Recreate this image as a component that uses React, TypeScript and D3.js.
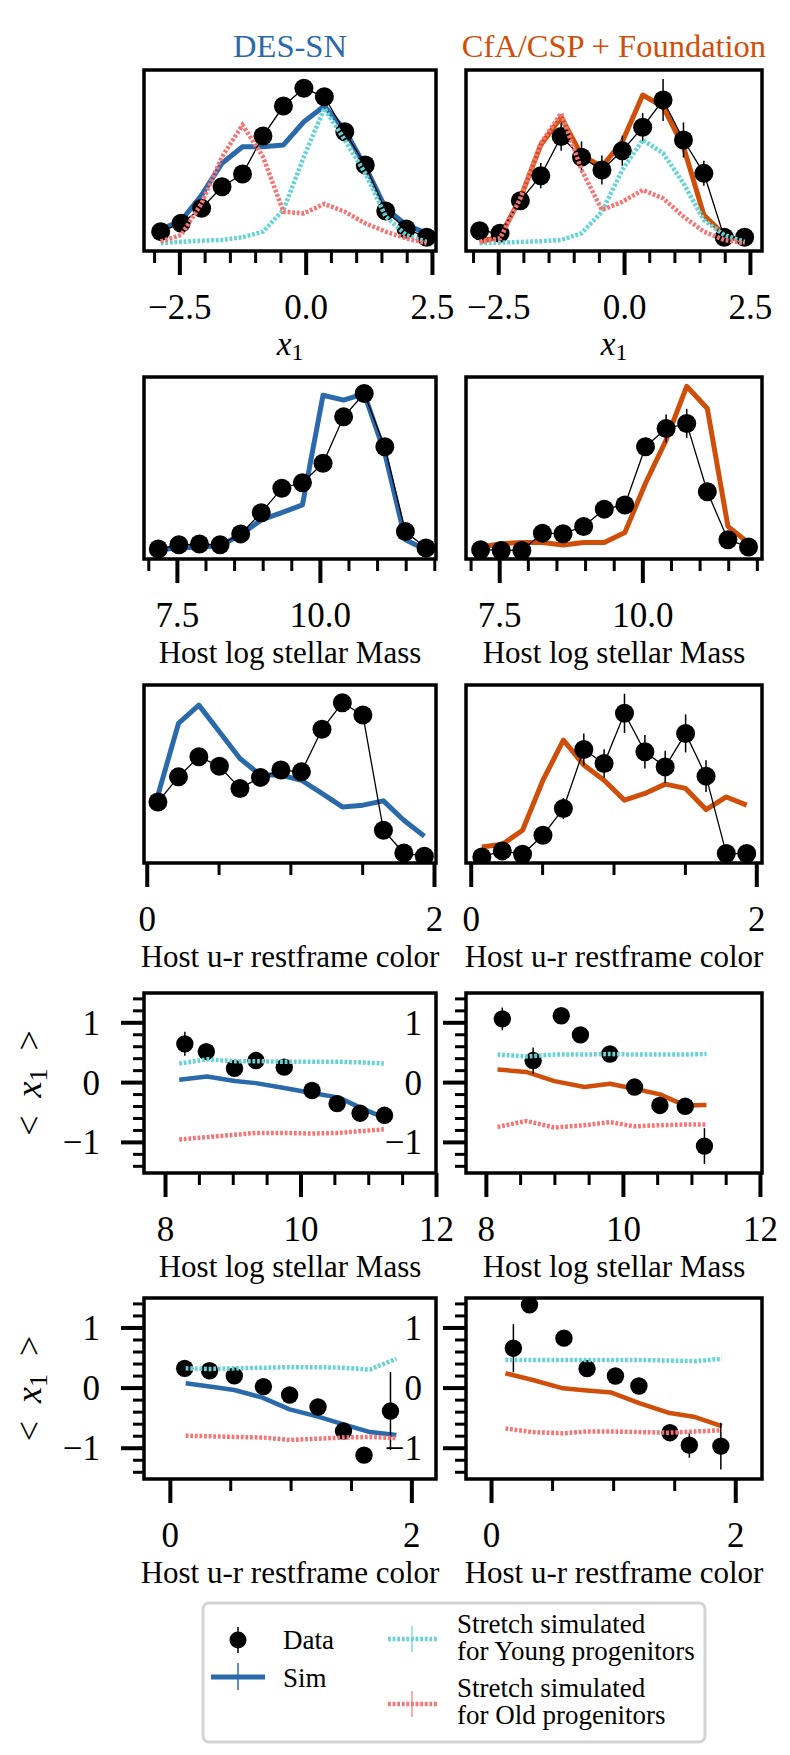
import * as d3 from "d3";
import { useEffect, useRef } from "react";

const W = 790;
const H = 1755;
const BLUE = "#2a6aab";
const ORANGE = "#cf4f0a";
const CYAN = "#66d4d6";
const RED = "#f87474";
const FONT = "\"Liberation Serif\", \"DejaVu Serif\", Times, serif";

// x1 histograms (normalised counts)
const x1Bins = [-2.87, -2.465, -2.06, -1.655, -1.25, -0.845, -0.44, -0.035, 0.37, 0.775, 1.18, 1.585, 1.99, 2.395];
const desX1Data = [0.107, 0.153, 0.236, 0.355, 0.425, 0.635, 0.801, 0.899, 0.852, 0.659, 0.475, 0.221, 0.122, 0.076];
const desX1Err = [0.01, 0.015, 0.02, 0.02, 0.025, 0.03, 0.03, 0.03, 0.03, 0.03, 0.025, 0.02, 0.015, 0.01];
const desX1Sim = [0.12, 0.167, 0.309, 0.485, 0.576, 0.576, 0.586, 0.714, 0.801, 0.669, 0.466, 0.236, 0.144, 0.098];
const desX1Young = [0.043, 0.051, 0.057, 0.061, 0.076, 0.107, 0.227, 0.521, 0.788, 0.613, 0.429, 0.19, 0.088, 0.051];
const desX1Old = [0.053, 0.088, 0.263, 0.521, 0.696, 0.521, 0.217, 0.208, 0.26, 0.217, 0.153, 0.107, 0.07, 0.043];
const lowzX1Data = [0.112, 0.098, 0.278, 0.416, 0.632, 0.518, 0.448, 0.554, 0.684, 0.834, 0.613, 0.429, 0.076, 0.076];
const lowzX1Err = [0.02, 0.02, 0.045, 0.07, 0.078, 0.088, 0.08, 0.083, 0.078, 0.116, 0.097, 0.069, 0.02, 0.02];
const lowzX1Sim = [0.051, 0.079, 0.291, 0.586, 0.739, 0.53, 0.466, 0.604, 0.862, 0.797, 0.576, 0.199, 0.088, 0.051];
const lowzX1Young = [0.043, 0.046, 0.05, 0.054, 0.061, 0.098, 0.217, 0.448, 0.613, 0.54, 0.374, 0.171, 0.088, 0.051];
const lowzX1Old = [0.051, 0.07, 0.291, 0.595, 0.761, 0.448, 0.227, 0.272, 0.337, 0.291, 0.19, 0.107, 0.061, 0.043];

// host mass histograms
const massBins = [7.175, 7.535, 7.895, 8.255, 8.615, 8.975, 9.335, 9.695, 10.055, 10.415, 10.775, 11.135, 11.495, 11.855];
const desMassData = [0.055, 0.078, 0.082, 0.078, 0.138, 0.254, 0.389, 0.419, 0.526, 0.781, 0.909, 0.617, 0.151, 0.06];
const desMassErr = [0.01, 0.012, 0.012, 0.012, 0.015, 0.02, 0.025, 0.025, 0.025, 0.03, 0.03, 0.025, 0.015, 0.01];
const desMassSim = [0.051, 0.06, 0.066, 0.073, 0.133, 0.215, 0.255, 0.297, 0.9, 0.873, 0.909, 0.581, 0.106, 0.051];
const lowzMassData = [0.051, 0.047, 0.047, 0.142, 0.139, 0.179, 0.274, 0.297, 0.617, 0.717, 0.745, 0.37, 0.106, 0.066];
const lowzMassErr = [0.015, 0.015, 0.015, 0.03, 0.03, 0.03, 0.035, 0.04, 0.05, 0.077, 0.08, 0.05, 0.025, 0.02];
const lowzMassSim = [0.066, 0.084, 0.091, 0.091, 0.077, 0.091, 0.091, 0.146, 0.416, 0.653, 0.949, 0.827, 0.179, 0.088];

// host u-r colour histograms
const colorBins = [0.078, 0.221, 0.363, 0.506, 0.649, 0.792, 0.934, 1.077, 1.22, 1.362, 1.505, 1.648, 1.79, 1.933];
const desColorData = [0.343, 0.484, 0.597, 0.544, 0.419, 0.481, 0.522, 0.512, 0.751, 0.9, 0.831, 0.184, 0.056, 0.038];
const desColorErr = [0.02, 0.025, 0.025, 0.025, 0.025, 0.025, 0.025, 0.025, 0.03, 0.03, 0.03, 0.02, 0.01, 0.01];
const desColorSim = [0.381, 0.784, 0.887, 0.737, 0.587, 0.494, 0.494, 0.465, 0.391, 0.315, 0.325, 0.349, 0.24, 0.15];
const lowzColorData = [0.034, 0.068, 0.049, 0.156, 0.306, 0.638, 0.559, 0.841, 0.625, 0.54, 0.728, 0.488, 0.053, 0.053];
const lowzColorErr = [0.02, 0.02, 0.02, 0.045, 0.06, 0.09, 0.08, 0.11, 0.094, 0.09, 0.107, 0.089, 0.02, 0.02];
const lowzColorSim = [0.09, 0.105, 0.184, 0.465, 0.69, 0.55, 0.465, 0.353, 0.391, 0.443, 0.419, 0.3, 0.371, 0.325];

// <x1> vs host mass
const desMassMeanX = [8.293, 8.61, 9.026, 9.343, 9.76, 10.17, 10.54, 10.88, 11.24];
const desMassMean = [0.64, 0.51, 0.23, 0.36, 0.25, -0.14, -0.36, -0.52, -0.555];
const desMassMeanErr = [0.2, 0.08, 0.07, 0.07, 0.07, 0.07, 0.07, 0.07, 0.08];
const desSimMassX = [8.21, 8.62, 9.03, 9.34, 9.76, 10.17, 10.57, 10.88, 11.23];
const desMassMeanSim = [0.04, 0.095, 0.017, -0.017, -0.1, -0.183, -0.26, -0.427, -0.593];
const desMassMeanYoung = [0.31, 0.38, 0.35, 0.35, 0.34, 0.34, 0.34, 0.33, 0.31];
const desMassMeanOld = [-0.96, -0.92, -0.88, -0.85, -0.85, -0.86, -0.85, -0.82, -0.79];
const lowzMassMeanX = [8.24, 8.69, 9.1, 9.38, 9.81, 10.17, 10.54, 10.91, 11.19];
const lowzMassMean = [1.057, 0.36, 1.11, 0.79, 0.47, -0.083, -0.39, -0.405, -1.07];
const lowzMassMeanErr = [0.19, 0.22, 0.09, 0.09, 0.09, 0.09, 0.09, 0.09, 0.3];
const lowzSimMassX = [8.17, 8.59, 9.0, 9.44, 9.81, 10.17, 10.54, 10.9, 11.22];
const lowzMassMeanSim = [0.21, 0.17, 0.017, -0.083, -0.027, -0.11, -0.205, -0.39, -0.383];
const lowzMassMeanYoung = [0.46, 0.43, 0.46, 0.46, 0.47, 0.46, 0.46, 0.46, 0.47];
const lowzMassMeanOld = [-0.75, -0.65, -0.76, -0.72, -0.67, -0.74, -0.72, -0.71, -0.71];

// <x1> vs host u-r colour
const desColorMeanX = [0.123, 0.329, 0.534, 0.775, 0.992, 1.227, 1.438, 1.608, 1.827];
const desColorMean = [0.32, 0.28, 0.195, 0.017, -0.123, -0.323, -0.723, -1.123, -0.39];
const desColorMeanErr = [0.05, 0.05, 0.05, 0.05, 0.05, 0.06, 0.07, 0.08, 0.65];
const desSimColorX = [0.131, 0.329, 0.534, 0.767, 0.992, 1.227, 1.438, 1.657, 1.876];
const desColorMeanSim = [0.072, 0.017, -0.04, -0.167, -0.362, -0.483, -0.612, -0.74, -0.79];
const desColorMeanYoung = [0.32, 0.31, 0.32, 0.33, 0.34, 0.34, 0.33, 0.3, 0.48];
const desColorMeanOld = [-0.8, -0.81, -0.82, -0.83, -0.87, -0.85, -0.83, -0.82, -0.84];
const lowzColorMeanX = [0.183, 0.315, 0.597, 0.786, 1.019, 1.211, 1.465, 1.624, 1.882];
const lowzColorMean = [0.655, 1.377, 0.822, 0.317, 0.193, 0.027, -0.75, -0.957, -0.973];
const lowzColorMeanErr = [0.4, 0.1, 0.08, 0.08, 0.08, 0.08, 0.1, 0.21, 0.39];
const lowzSimColorX = [0.118, 0.342, 0.589, 0.786, 0.986, 1.219, 1.451, 1.671, 1.89];
const lowzColorMeanSim = [0.238, 0.127, -0.012, -0.05, -0.083, -0.262, -0.417, -0.49, -0.64];
const lowzColorMeanYoung = [0.46, 0.46, 0.46, 0.46, 0.46, 0.46, 0.45, 0.44, 0.48];
const lowzColorMeanOld = [-0.68, -0.74, -0.76, -0.73, -0.73, -0.74, -0.75, -0.73, -0.71];

// ticks
const x1Major = [-2.5, 0, 2.5];
const x1MajorLabels = ["−2.5", "0.0", "2.5"];
const x1Minor = [-3, -2, -1.5, -1, -0.5, 0.5, 1, 1.5, 2];
const massMajor = [7.5, 10];
const massMajorLabels = ["7.5", "10.0"];
const massMinor = [7, 8, 8.5, 9, 9.5, 10.5, 11, 11.5, 12];
const colorMajor = [0, 2];
const colorMajorLabels = ["0", "2"];
const colorMinor = [0.5, 1, 1.5];
const meanMassMajor = [8, 10, 12];
const meanMassLabels = ["8", "10", "12"];
const meanMassMinor = [8.5, 9, 9.5, 10.5, 11, 11.5];
const meanYMajor = [-1, 0, 1];
const meanYLabels = ["−1", "0", "1"];
const meanYMinor = [-1.4, -1.2, -0.8, -0.6, -0.4, -0.2, 0.2, 0.4, 0.6, 0.8, 1.2, 1.4];

const colX = [[144, 436], [466, 762]];
const rowY = [[70, 251], [377, 559], [685, 863], [993, 1173], [1298, 1479]];

const panels = [
    { row: 0, col: 0, xDomain: [-3.2, 2.58], yDomain: [0, 1], major: x1Major, labels: x1MajorLabels, minor: x1Minor, xLabel: "x1",
      dataX: x1Bins, data: desX1Data, err: desX1Err, simX: x1Bins, sim: desX1Sim, young: desX1Young, old: desX1Old, color: BLUE, hist: true },
    { row: 0, col: 1, xDomain: [-3.14, 2.74], yDomain: [0, 1], major: x1Major, labels: x1MajorLabels, minor: x1Minor, xLabel: "x1",
      dataX: x1Bins, data: lowzX1Data, err: lowzX1Err, simX: x1Bins, sim: lowzX1Sim, young: lowzX1Young, old: lowzX1Old, color: ORANGE, hist: true },
    { row: 1, col: 0, xDomain: [6.925, 12.03], yDomain: [0, 1], major: massMajor, labels: massMajorLabels, minor: massMinor, xLabel: "Host log stellar Mass",
      dataX: massBins, data: desMassData, err: desMassErr, simX: massBins, sim: desMassSim, color: BLUE, hist: true },
    { row: 1, col: 1, xDomain: [6.92, 12.09], yDomain: [0, 1], major: massMajor, labels: massMajorLabels, minor: massMinor, xLabel: "Host log stellar Mass",
      dataX: massBins, data: lowzMassData, err: lowzMassErr, simX: massBins, sim: lowzMassSim, color: ORANGE, hist: true },
    { row: 2, col: 0, xDomain: [-0.019, 2.014], yDomain: [0, 1], major: colorMajor, labels: colorMajorLabels, minor: colorMinor, xLabel: "Host u-r restframe color",
      dataX: colorBins, data: desColorData, err: desColorErr, simX: colorBins, sim: desColorSim, color: BLUE, hist: true },
    { row: 2, col: 1, xDomain: [-0.033, 2.04], yDomain: [0, 1], major: colorMajor, labels: colorMajorLabels, minor: colorMinor, xLabel: "Host u-r restframe color",
      dataX: colorBins, data: lowzColorData, err: lowzColorErr, simX: colorBins, sim: lowzColorSim, color: ORANGE, hist: true },
    { row: 3, col: 0, xDomain: [7.69, 12.0], yDomain: [-1.52, 1.49], major: meanMassMajor, labels: meanMassLabels, minor: meanMassMinor, xLabel: "Host log stellar Mass",
      dataX: desMassMeanX, data: desMassMean, err: desMassMeanErr, simX: desSimMassX, sim: desMassMeanSim, young: desMassMeanYoung, old: desMassMeanOld, color: BLUE, hist: false },
    { row: 3, col: 1, xDomain: [7.71, 12.03], yDomain: [-1.52, 1.49], major: meanMassMajor, labels: meanMassLabels, minor: meanMassMinor, xLabel: "Host log stellar Mass",
      dataX: lowzMassMeanX, data: lowzMassMean, err: lowzMassMeanErr, simX: lowzSimMassX, sim: lowzMassMeanSim, young: lowzMassMeanYoung, old: lowzMassMeanOld, color: ORANGE, hist: false },
    { row: 4, col: 0, xDomain: [-0.214, 2.204], yDomain: [-1.52, 1.49], major: colorMajor, labels: colorMajorLabels, minor: colorMinor, xLabel: "Host u-r restframe color",
      dataX: desColorMeanX, data: desColorMean, err: desColorMeanErr, simX: desSimColorX, sim: desColorMeanSim, young: desColorMeanYoung, old: desColorMeanOld, color: BLUE, hist: false },
    { row: 4, col: 1, xDomain: [-0.205, 2.219], yDomain: [-1.52, 1.49], major: colorMajor, labels: colorMajorLabels, minor: colorMinor, xLabel: "Host u-r restframe color",
      dataX: lowzColorMeanX, data: lowzColorMean, err: lowzColorMeanErr, simX: lowzSimColorX, sim: lowzColorMeanSim, young: lowzColorMeanYoung, old: lowzColorMeanOld, color: ORANGE, hist: false },
];

// x1 with subscript, optionally wrapped in < >
const mathX1 = (text, brackets) => {
    if (brackets) text.append("tspan").text("<\u2002");
    text.append("tspan").style("font-style", "italic").text("x");
    text.append("tspan").attr("font-size", "0.72em").attr("dy", "0.22em").text("1");
    if (brackets) text.append("tspan").attr("dy", "-0.16em").text("\u2002>");
};

const styleAxis = (g) => {
    g.select(".domain").remove();
    g.attr("font-family", null).attr("font-size", null)
        .style("font-family", FONT).style("font-size", "35px");
    g.selectAll("line").attr("stroke", "#000");
};

const drawPanel = (svg, p) => {
    const [x0, x1] = colX[p.col];
    const [y0, y1] = rowY[p.row];
    const sx = d3.scaleLinear().domain(p.xDomain).range([x0, x1]);
    const sy = d3.scaleLinear().domain(p.yDomain).range([y1, y0]);
    const clipId = `clip-${p.row}-${p.col}`;
    svg.append("clipPath").attr("id", clipId)
        .append("rect").attr("x", x0).attr("y", y0).attr("width", x1 - x0).attr("height", y1 - y0);

    const g = svg.append("g").attr("clip-path", `url(#${clipId})`);
    const line = d3.line().x(d => sx(d[0])).y(d => sy(d[1]));

    // simulation
    g.append("path")
        .datum(d3.zip(p.simX, p.sim))
        .attr("d", line)
        .attr("fill", "none")
        .attr("stroke", p.color)
        .attr("stroke-width", p.hist ? 5 : 4.5)
        .attr("stroke-linejoin", "round");

    // data
    if (p.hist) {
        g.append("path")
            .datum(d3.zip(p.dataX, p.data))
            .attr("d", line)
            .attr("fill", "none")
            .attr("stroke", "#000")
            .attr("stroke-width", 1.3);
    }
    g.selectAll(".err")
        .data(d3.zip(p.dataX, p.data, p.err))
        .enter()
        .append("line")
        .attr("x1", d => sx(d[0]))
        .attr("x2", d => sx(d[0]))
        .attr("y1", d => sy(d[1] - d[2]))
        .attr("y2", d => sy(d[1] + d[2]))
        .attr("stroke", "#000")
        .attr("stroke-width", 1.5);
    g.selectAll(".dot")
        .data(d3.zip(p.dataX, p.data))
        .enter()
        .append("circle")
        .attr("cx", d => sx(d[0]))
        .attr("cy", d => sy(d[1]))
        .attr("r", p.hist ? 9.5 : 8.7)
        .attr("fill", "#000");

    // young / old progenitor predictions
    [[p.young, CYAN], [p.old, RED]].forEach(([vals, c]) => {
        if (!vals) return;
        g.append("path")
            .datum(d3.zip(p.simX, vals))
            .attr("d", line)
            .attr("fill", "none")
            .attr("stroke", c)
            .attr("stroke-width", 4.5)
            .attr("stroke-dasharray", "2.8 1.8");
    });

    // frame
    svg.append("rect")
        .attr("x", x0).attr("y", y0)
        .attr("width", x1 - x0).attr("height", y1 - y0)
        .attr("fill", "none")
        .attr("stroke", "#000")
        .attr("stroke-width", 3.5);

    // x axis
    const gMinor = svg.append("g").attr("transform", `translate(0,${y1})`)
        .call(d3.axisBottom(sx).tickValues(p.minor).tickSize(12).tickFormat(() => ""));
    styleAxis(gMinor);
    gMinor.selectAll("line").attr("stroke-width", 3);

    const gMajor = svg.append("g").attr("transform", `translate(0,${y1})`)
        .call(d3.axisBottom(sx).tickValues(p.major).tickSize(24).tickFormat((d, i) => p.labels[i]));
    styleAxis(gMajor);
    gMajor.selectAll("line").attr("stroke-width", 4);
    gMajor.selectAll("text").attr("y", 68).attr("dy", null).attr("fill", "#000");

    // x label
    const cx = (x0 + x1) / 2;
    const xl = svg.append("text")
        .attr("x", cx)
        .attr("y", y1 + 104)
        .attr("text-anchor", "middle")
        .style("font-family", FONT)
        .style("font-size", p.xLabel === "x1" ? "33px" : "31px");
    if (p.xLabel === "x1") mathX1(xl, false);
    else xl.text(p.xLabel);

    // y axis for the mean panels
    if (!p.hist) {
        const gyMinor = svg.append("g").attr("transform", `translate(${x0},0)`)
            .call(d3.axisLeft(sy).tickValues(meanYMinor).tickSize(11).tickFormat(() => ""));
        styleAxis(gyMinor);
        gyMinor.selectAll("line").attr("stroke-width", 3);
        const gyMajor = svg.append("g").attr("transform", `translate(${x0},0)`)
            .call(d3.axisLeft(sy).tickValues(meanYMajor).tickSize(23).tickFormat((d, i) => meanYLabels[i]));
        styleAxis(gyMajor);
        gyMajor.selectAll("line").attr("stroke-width", 4);
        gyMajor.selectAll("text").attr("x", -44).attr("dy", "0.34em").attr("fill", "#000");

        if (p.col === 0) {
            const yl = svg.append("text")
                .attr("transform", `translate(41,${(y0 + y1) / 2}) rotate(-90)`)
                .attr("text-anchor", "middle")
                .style("font-family", FONT)
                .style("font-size", "36px");
            mathX1(yl, true);
        }
    }
};

const drawLegend = (svg) => {
    const lg = svg.append("g").style("font-family", FONT).style("font-size", "27px");
    lg.append("rect")
        .attr("x", 203).attr("y", 1603)
        .attr("width", 502).attr("height", 139)
        .attr("rx", 6)
        .attr("fill", "#fff")
        .attr("stroke", "#d4d4d4")
        .attr("stroke-width", 3);

    // Data
    lg.append("line").attr("x1", 238).attr("x2", 238).attr("y1", 1627).attr("y2", 1653)
        .attr("stroke", "#000").attr("stroke-width", 1.5);
    lg.append("circle").attr("cx", 238).attr("cy", 1640).attr("r", 8.5).attr("fill", "#000");
    lg.append("text").attr("x", 283).attr("y", 1649).text("Data");

    // Sim
    lg.append("line").attr("x1", 211).attr("x2", 265).attr("y1", 1677).attr("y2", 1677)
        .attr("stroke", BLUE).attr("stroke-width", 5);
    lg.append("line").attr("x1", 238).attr("x2", 238).attr("y1", 1663).attr("y2", 1690)
        .attr("stroke", BLUE).attr("stroke-width", 1.5);
    lg.append("text").attr("x", 283).attr("y", 1687).text("Sim");

    // progenitor entries
    [[CYAN, 1639, ["Stretch simulated", "for Young progenitors"], 1633],
     [RED, 1704, ["Stretch simulated", "for Old progenitors"], 1697]].forEach(([c, yy, lines, base]) => {
        lg.append("line").attr("x1", 388).attr("x2", 437).attr("y1", yy).attr("y2", yy)
            .attr("stroke", c).attr("stroke-width", 4.5).attr("stroke-dasharray", "2.8 1.8");
        lg.append("line").attr("x1", 412).attr("x2", 412).attr("y1", yy - 13).attr("y2", yy + 13)
            .attr("stroke", c).attr("stroke-width", 1.2);
        lines.forEach((t, i) => {
            lg.append("text").attr("x", 457).attr("y", base + i * 27).text(t);
        });
    });
};

const App = () => {
    const chartRef = useRef(null);

    useEffect(() => {
        const svg = d3.select(chartRef.current);
        svg.selectAll("*").remove();

        svg.append("rect").attr("width", W).attr("height", H).attr("fill", "#fff");

        panels.forEach(p => drawPanel(svg, p));

        // column titles
        [["DES-SN", BLUE, 0], ["CfA/CSP + Foundation", ORANGE, 1]].forEach(([t, c, col]) => {
            svg.append("text")
                .attr("x", (colX[col][0] + colX[col][1]) / 2)
                .attr("y", 57)
                .attr("text-anchor", "middle")
                .style("font-family", FONT)
                .style("font-size", "32.5px")
                .attr("fill", c)
                .text(t);
        });

        drawLegend(svg);
    }, []);

    return (
        <svg ref={chartRef} width={W} height={H}
             style={{ position: "absolute", left: 0, top: 0, fontFamily: FONT }}></svg>
    );
};

export default App;
